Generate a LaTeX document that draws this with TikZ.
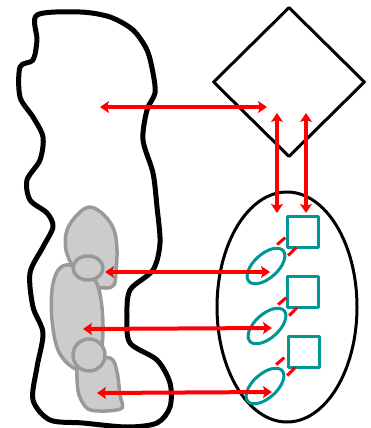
\documentclass[tikz,border=0pt]{standalone}
\usetikzlibrary{shapes.geometric,arrows.meta}
\definecolor{tealline}{RGB}{0,150,150}
\tikzstyle{lobe}=[fill=gray!40, draw=gray!80, line width=3.5pt]
\tikzstyle{link}=[red, line width=4pt, {Stealth[length=9pt,width=12pt,inset=2pt]}-{Stealth[length=9pt,width=12pt,inset=2pt]}]
\tikzstyle{tie}=[red, line width=3pt]
\tikzstyle{box}=[draw=tealline, line width=3pt, minimum size=31pt, inner sep=0pt]
\tikzstyle{pod}=[ellipse, draw=tealline, line width=3pt, minimum width=46pt, minimum height=24pt, inner sep=0pt, rotate=42]

\begin{document}
\begin{tikzpicture}[x=1pt, y=-1pt, line join=round]
\useasboundingbox (0,0) rectangle (371,428);
% Outline
    \draw[line width=5pt] plot[smooth cycle, tension=0.5] coordinates {
        (37,15) (80,12) (110,17) (133,30) (147,50) (153,73) (155,93)
        (147,110) (143,140) (153,173) (157,207) (160,243) (153,270)
        (130,290) (127,317) (130,343) (157,360) (170,383) (170,407)
        (157,423) (127,427) (83,423) (50,420) (33,400) (37,367)
        (43,333) (33,307) (30,273) (43,247) (53,227) (47,213) (30,200)
        (27,180) (40,160) (43,137) (33,117) (20,97) (20,67) (33,60)
        (37,40)};
% Grey parts
    \draw[lobe] plot[smooth cycle, tension=0.6] coordinates {
        (90,207) (104,215) (114,230) (117,250) (116,270) (114,285)
        (105,288) (90,285) (75,270) (66,250) (67,230) (78,214)};
    \draw[lobe] plot[smooth cycle, tension=0.6] coordinates {
        (66,265) (80,268) (95,280) (101,300) (103,330) (100,355)
        (88,370) (72,367) (58,350) (52,320) (52,290) (57,272)};
    \draw[lobe] plot[smooth cycle, tension=0.5] coordinates {
        (80,360) (110,358) (117,372) (120,395) (122,408) (105,411)
        (88,409) (79,395) (77,375)};
    \draw[lobe] (88,268) ellipse (15 and 12);
    \draw[lobe] (89,355) ellipse (16 and 16);
% Right side
    \node[diamond, draw, line width=3pt, minimum width=152pt, minimum height=150pt, inner sep=0pt] (top) at (289,82) {};
    \node[ellipse, draw, line width=3pt, minimum width=140pt, minimum height=230pt, inner sep=0pt] (group) at (287,307) {};
    \node[box] (sq1) at (302.5,232) {};
    \node[box] (sq2) at (302.5,292) {};
    \node[box] (sq3) at (304,352) {};
    \node[pod] (e1) at (266,266) {};
    \node[pod] (e2) at (267,326) {};
    \node[pod] (e3) at (265,386) {};
% Ties
    \foreach \e in {e1,e2,e3}{
        \draw[tie] ([shift={(-7,-5)}]\e.east) -- ++(8,-7);
        \draw[tie] ([shift={(4,6)}]\e.east) -- ++(8,-8);
    }
% Arrow ends
    \coordinate (a1) at (100,107);
    \coordinate (b1) at (267,107);
    \coordinate (a2) at (105,272);
    \coordinate (b2) at (270,272);
    \coordinate (a3) at (83,329);
    \coordinate (b3) at (272,328);
    \coordinate (a4) at (97,393);
    \coordinate (b4) at (272,392);
    \coordinate (u1) at (277,113);
    \coordinate (d1) at (277,213);
    \coordinate (u2) at (306,113);
    \coordinate (d2) at (306,213);
% Arrows
    \draw[link] (a1) -- (b1);
    \draw[link] (a2) -- (b2);
    \draw[link] (a3) -- (b3);
    \draw[link] (a4) -- (b4);
    \draw[link] (u1) -- (d1);
    \draw[link] (u2) -- (d2);
\end{tikzpicture}
\end{document}
